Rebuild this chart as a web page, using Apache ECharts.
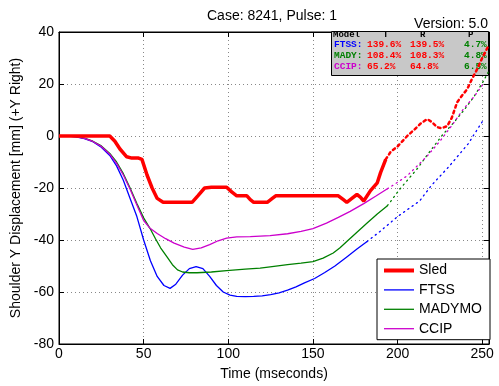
<!DOCTYPE html>
<html>
<head>
<meta charset="utf-8">
<script src="https://cdn.jsdelivr.net/npm/echarts@6/dist/echarts.min.js"></script>
<style>html,body{margin:0;padding:0;background:#fff}#c{width:499px;height:386px}</style>
</head>
<body>
<div id="c"></div>
<script>
// ---- data ----
const sledT = [0,5,10,15,20,25,30,33,36,40,43,47,49,52,55,58,61.5,65,70,75,78.6,82,86,90,95,99,102,105,111,113,115,123,126,128,135,145,155,165,168,170,173,176,178,180,184,188,190,193];
const sledY = [0,0,0,0,0,0,0,-2,-5,-8,-8.5,-8.5,-9,-15,-20,-24,-25.5,-25.5,-25.5,-25.5,-25.5,-23,-20,-19.7,-19.7,-19.7,-21.5,-23,-23,-24.5,-25.5,-25.5,-24,-23,-23,-23,-23,-23,-24.5,-25.5,-24,-22.5,-23.5,-25,-21,-18,-14,-9];
const sledExtT = [193,196,200,205.7,210,214,217.5,220,223.4,226,229.3,232,235.2,238,241.1,244,247,250,253.5];
const sledExtY = [-9,-6,-4,0,2.5,5,6.5,5.5,3.4,3,3.8,7,13,15.5,18,22,25.7,30,34.5];

const ftssT = [0,5,10,15,20,25,30,34,38,42,46,50,54,58,62,65.6,69,73,77,81,85,89,93,97,101,105,110,115,120,125,130,135,140,145,151,157,163,170,176,182];
const ftssY = [0,0,-0.3,-1,-2.2,-4.3,-7.5,-11.5,-17,-24,-31,-40,-48,-54,-57.5,-58.6,-57,-53.5,-51,-50.2,-51,-54,-57.5,-60,-61.2,-61.7,-61.8,-61.7,-61.5,-61,-60.3,-59.3,-58,-56.5,-54.8,-52.5,-50,-46.5,-43.5,-40.6];
const ftssExtT = [182,190,200,213,220,230,241.7,251];
const ftssExtY = [-40.6,-36.5,-31,-25,-19,-12,-3,6.5];

const madyT = [0,5,10,15,20,25,30,34,38,42,46,50,53.8,57,60,63.8,67,70,73,77,81.5,90,99,110,118.8,124.7,135,143,150,156,162,166,170,176,182,188,194];
const madyY = [0,0,-0.2,-0.8,-2,-3.8,-6.7,-10,-14.5,-20,-26,-31.5,-35.6,-39.5,-43,-46.5,-49.5,-51.5,-52.3,-52.6,-52.6,-52.3,-51.8,-51.2,-50.8,-50.3,-49.5,-48.9,-48.3,-47,-45,-43,-40.6,-37,-33.5,-30,-26.8];
const madyExtT = [194,201.5,211.6,219,227,233,238.8,245,250.6,253.5];
const madyExtY = [-26.8,-20.3,-12.6,-6,0.8,5,9.6,15,21,24.5];

const ccipT = [0,5,10,15,20,25,30,34,38,42,46,50,53.8,58,63,68,74,79,84,89,94,99,105,113,124.7,135,143,150,158,165,172,180,187,194];
const ccipY = [0,0,-0.2,-0.9,-2.1,-4,-7,-10.5,-15,-20.5,-26.5,-32.5,-35.5,-37.5,-39.5,-41.2,-42.7,-43.6,-43,-41.8,-40.3,-39.3,-38.8,-38.7,-38.3,-37.6,-36.7,-35.6,-33.5,-31.3,-29,-26,-23.2,-20.3];
const ccipExtT = [194,200,205.7,211.6,217.5,225,232,238.8,245,250.6];
const ccipExtY = [-20.3,-17.8,-15.3,-11.5,-7.7,-2,4,10.3,15,20];

const xTicks = [0,50,100,150,200,250];
const yTicks = [-80,-60,-40,-20,0,20,40];
const legendNames = ['Sled','FTSS','MADYMO','CCIP'];
const tableHeader = ['Model','T','R','P'];
const tableRows = [
  ['FTSS:','139.6%','139.5%','4.7%'],
  ['MADY:','108.4%','108.3%','4.8%'],
  ['CCIP:','65.2%','64.8%','6.5%']
];
const titleText = 'Case: 8241, Pulse: 1';
const versionText = 'Version: 5.0';

// ---- build ----
const zip = (t, y) => t.map((v, i) => [v, y[i]]);
const FONT = '"Liberation Sans", Arial, sans-serif';
const MONO = '"Liberation Mono", "DejaVu Sans Mono", monospace';
const colors = {Sled:'#ff0000', FTSS:'#0000ff', MADYMO:'#008000', CCIP:'#cc00cc'};

function solid(name, t, y, w) {
  return {name, type:'line', data: zip(t, y), symbol:'none', showSymbol:false,
    lineStyle:{color:colors[name], width:w}, itemStyle:{color:colors[name]}, z:3};
}
function dotted(name, t, y, w, dash) {
  return {name: name + ' ext', type:'line', data: zip(t, y), symbol:'none', showSymbol:false,
    lineStyle:{color:colors[name], width:w, type:dash, cap:'round'}, itemStyle:{color:colors[name]}, z:3};
}

const rowColors = ['#0000ff','#008000','#cc00cc'];
const colX = [334, 367, 410, 464];
const rowY = [45, 56, 67];
const graphics = [];
graphics.push({type:'rect', shape:{x:331.5, y:31.5, width:157, height:44}, style:{fill:'#c8c8c8', stroke:null}, z:1});
const hdrX = [333, 383, 420, 468];
tableHeader.forEach((h, i) => graphics.push({type:'text', x:hdrX[i], y:35, z:1,
  style:{text:h, font:'bold 9px ' + MONO, fill:'#000', textVerticalAlign:'middle'}}));
graphics.push({type:'rect', shape:{x:331, y:22, width:160, height:9.5}, style:{fill:'#fff'}, z:1});
graphics.push({type:'rect', shape:{x:331.5, y:31.5, width:157, height:44}, style:{fill:null, stroke:'#000', lineWidth:1}, z:1});
tableRows.forEach((row, r) => {
  row.forEach((cell, c) => {
    let fill = c === 0 ? rowColors[r] : (c === 3 ? '#008000' : '#ff0000');
    graphics.push({type:'text', x:colX[c], y:rowY[r], z:1,
      style:{text:cell, font:'bold 9.5px ' + MONO, fill, textVerticalAlign:'middle'}});
  });
});
graphics.push({type:'text', x:272, y:16, z:5, style:{text:titleText, font:'14px ' + FONT, fill:'#000', textAlign:'center', textVerticalAlign:'middle'}});
graphics.push({type:'text', x:488, y:24.5, z:5, style:{text:versionText, font:'14px ' + FONT, fill:'#000', textAlign:'right', textVerticalAlign:'middle'}});

const legendData = legendNames.map(n => ({
  name:n,
  icon: n === 'Sled' ? 'path://M0,0H30V4H0Z' : 'path://M0,0H30V1.3H0Z'
}));

const splitStyle = {show:true, lineStyle:{color:'#888', width:1, type:[1,3]}};
const option = {
  animation:false,
  backgroundColor:'#fff',
  grid:{left:59, top:32, right:10, bottom:42, show:true, borderColor:'#000', borderWidth:1, backgroundColor:'transparent', containLabel:false},
  legend:{data:legendData, left:377, top:259, orient:'vertical', backgroundColor:'#fff', borderColor:'#000', borderWidth:1,
    padding:[4.5,8,4,7], itemGap:5.4, itemWidth:30, itemHeight:14, borderRadius:0, symbolKeepAspect:true,
    textStyle:{fontFamily:FONT, fontSize:14, color:'#000'}, z:10},
  graphic:{elements:graphics},
  xAxis:[{
    type:'value', min:0, max:254, interval:50, position:'bottom',
    name:'Time (mseconds)', nameLocation:'middle', nameGap:23,
    nameTextStyle:{fontFamily:FONT, fontSize:14, color:'#000'},
    axisLine:{show:true, onZero:false, lineStyle:{color:'#000', width:1}},
    axisTick:{show:true, inside:true, length:5, lineStyle:{color:'#000'}},
    axisLabel:{show:true, margin:3, fontFamily:FONT, fontSize:14, color:'#000', showMaxLabel:false,
      formatter: v => xTicks.includes(v) ? String(v) : ''},
    splitLine:splitStyle
  },{
    type:'value', min:0, max:254, interval:50, position:'top',
    axisLine:{show:true, onZero:false, lineStyle:{color:'#000'}},
    axisTick:{show:true, inside:true, length:5, lineStyle:{color:'#000'}},
    axisLabel:{show:false}, splitLine:{show:false}
  }],
  yAxis:[{
    type:'value', min:-80, max:40, interval:20, position:'left',
    name:'Shoulder Y Displacement [mm] (+Y Right)', nameLocation:'middle', nameGap:32,
    nameTextStyle:{fontFamily:FONT, fontSize:14, color:'#000'},
    axisLine:{show:true, onZero:false, lineStyle:{color:'#000', width:1}},
    axisTick:{show:true, inside:true, length:5, lineStyle:{color:'#000'}},
    axisLabel:{show:true, margin:5, fontFamily:FONT, fontSize:14, color:'#000',
      formatter: v => yTicks.includes(v) ? String(v) : ''},
    splitLine:splitStyle
  },{
    type:'value', min:-80, max:40, interval:20, position:'right',
    axisLine:{show:true, onZero:false, lineStyle:{color:'#000'}},
    axisTick:{show:true, inside:true, length:5, lineStyle:{color:'#000'}},
    axisLabel:{show:false}, splitLine:{show:false}
  }],
  series:[
    dotted('FTSS', ftssExtT, ftssExtY, 1.3, [1.2,4]),
    dotted('MADYMO', madyExtT, madyExtY, 1.3, [1.2,4]),
    dotted('CCIP', ccipExtT, ccipExtY, 1.3, [1.2,4]),
    dotted('Sled', sledExtT, sledExtY, 2.5, [2.5,3.5]),
    solid('FTSS', ftssT, ftssY, 1.3),
    solid('MADYMO', madyT, madyY, 1.3),
    solid('CCIP', ccipT, ccipY, 1.3),
    solid('Sled', sledT, sledY, 3.5)
  ]
};
const chart = echarts.init(document.getElementById('c'), null, {renderer:'canvas'});
chart.setOption(option);
</script>
</body>
</html>
